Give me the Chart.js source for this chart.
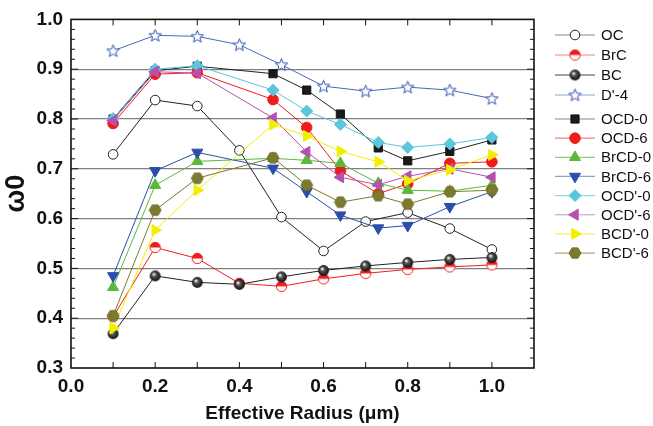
<!DOCTYPE html>
<html>
<head>
<meta charset="utf-8">
<script src="https://cdn.jsdelivr.net/npm/chart.js@4.4.1/dist/chart.umd.min.js"></script>
<style>
  html, body { margin: 0; padding: 0; background: #fff; }
  #wrap { width: 653px; height: 426px; }
</style>
</head>
<body>
<div id="wrap"><canvas id="omegaChart"></canvas></div>
<script>
// radius grids (µm)
const radiusAerosol = [0.1, 0.2, 0.3, 0.4, 0.5, 0.6, 0.7, 0.8, 0.9, 1.0];
const radiusMixed = [0.1, 0.2, 0.3, 0.48, 0.56, 0.64, 0.73, 0.8, 0.9, 1.0];

// single scattering albedo values
const ocVals    = [0.729, 0.838, 0.826, 0.737, 0.603, 0.535, 0.594, 0.612, 0.580, 0.538];
const brcVals   = [0.403, 0.542, 0.520, 0.470, 0.464, 0.479, 0.490, 0.498, 0.503, 0.507];
const bcVals    = [0.369, 0.485, 0.472, 0.468, 0.483, 0.496, 0.505, 0.512, 0.518, 0.522];
const d4Vals    = [0.937, 0.968, 0.966, 0.949, 0.909, 0.866, 0.856, 0.864, 0.858, 0.841];
const ocd0Vals  = [0.800, 0.897, 0.906, 0.891, 0.858, 0.810, 0.742, 0.716, 0.735, 0.758];
const ocd6Vals  = [0.791, 0.890, 0.893, 0.839, 0.783, 0.696, 0.650, 0.670, 0.711, 0.714];
const brcd0Vals = [0.462, 0.667, 0.715, 0.721, 0.717, 0.711, 0.671, 0.657, 0.655, 0.667];
const brcd6Vals = [0.485, 0.696, 0.733, 0.701, 0.654, 0.607, 0.581, 0.586, 0.624, 0.654];
const ocdp0Vals = [0.801, 0.900, 0.907, 0.858, 0.816, 0.789, 0.753, 0.743, 0.750, 0.763];
const ocdp6Vals = [0.797, 0.895, 0.892, 0.802, 0.734, 0.683, 0.668, 0.685, 0.700, 0.683];
const bcdp0Vals = [0.380, 0.577, 0.657, 0.789, 0.766, 0.735, 0.714, 0.676, 0.698, 0.728];
const bcdp6Vals = [0.405, 0.617, 0.681, 0.722, 0.667, 0.633, 0.646, 0.629, 0.654, 0.657];

const xTickVals = [0.0, 0.2, 0.4, 0.6, 0.8, 1.0];
const yTickVals = [0.3, 0.4, 0.5, 0.6, 0.7, 0.8, 0.9, 1.0];

const FONT = '"Liberation Sans", Arial, Helvetica, sans-serif';

// custom marker images
function marker(size, draw) {
    const c = document.createElement("canvas");
    c.width = size; c.height = size;
    draw(c.getContext("2d"), size / 2);
    return c;
}

const starImg = marker(15, function (g, m) {
    g.beginPath();
    for (let k = 0; k < 10; k++) {
        const r = k % 2 === 0 ? 6.5 : 2.8;
        const a = -Math.PI / 2 + k * Math.PI / 5;
        g.lineTo(m + r * Math.cos(a), m + 0.5 + r * Math.sin(a));
    }
    g.closePath();
    g.fillStyle = "#fff"; g.fill();
    g.strokeStyle = "#2e4fb0"; g.lineWidth = 1; g.stroke();
});

const halfImg = marker(13, function (g, m) {
    g.beginPath(); g.arc(m, m, 5.2, 0, Math.PI * 2);
    g.fillStyle = "#fff"; g.fill();
    g.beginPath(); g.arc(m, m, 5.2, Math.PI, Math.PI * 2); g.closePath();
    g.fillStyle = "#f01c1c"; g.fill();
    g.beginPath(); g.arc(m, m, 5.2, 0, Math.PI * 2);
    g.strokeStyle = "#f01c1c"; g.lineWidth = 1; g.stroke();
});

const ballImg = marker(13, function (g, m) {
    const grad = g.createRadialGradient(m - 1.6, m - 1.8, 0.4, m, m, 5.6);
    grad.addColorStop(0, "#f4f4f4");
    grad.addColorStop(0.35, "#555");
    grad.addColorStop(1, "#0a0a0a");
    g.beginPath(); g.arc(m, m, 5.4, 0, Math.PI * 2);
    g.fillStyle = grad; g.fill();
});

const hexImg = marker(14, function (g, m) {
    g.beginPath();
    for (let k = 0; k < 6; k++) {
        const a = k * Math.PI / 3;
        g.lineTo(m + 6 * Math.cos(a), m + 6 * Math.sin(a));
    }
    g.closePath();
    g.fillStyle = "#7b7a2e"; g.fill();
    g.strokeStyle = "#6b6a24"; g.lineWidth = 0.8; g.stroke();
});

function pts(xs, ys) {
    return xs.map(function (x, i) { return { x: x, y: ys[i] }; });
}

function series(label, xs, ys, line, style, fill, edge, radius, rotation, legendLine) {
    return {
        label: label,
        data: pts(xs, ys),
        borderColor: line,
        borderWidth: 1,
        pointStyle: style,
        pointBackgroundColor: fill,
        pointBorderColor: edge,
        pointBorderWidth: 1,
        pointRadius: radius,
        pointRotation: rotation || 0,
        legendLine: legendLine || line,
        tension: 0
    };
}

const datasets = [
    series("OC", radiusAerosol, ocVals, "#222", "circle", "#fff", "#222", 4.8, 0, "#888"),
    series("BrC", radiusAerosol, brcVals, "#f01c1c", halfImg, "#f01c1c", "#f01c1c", 5, 0, "#f58080"),
    series("BC", radiusAerosol, bcVals, "#222", ballImg, "#111", "#111", 5, 0, "#444"),
    series("D'-4", radiusAerosol, d4Vals, "#4a66bc", starImg, "#fff", "#2e4fb0", 6, 0, "#8c9fd6"),
    series("OCD-0", radiusMixed, ocd0Vals, "#222", "rect", "#1a1a1a", "#1a1a1a", 5.8, 0, "#888"),
    series("OCD-6", radiusMixed, ocd6Vals, "#f01c1c", "circle", "#f01c1c", "#f01c1c", 5.3, 0, "#f58080"),
    series("BrCD-0", radiusMixed, brcd0Vals, "#5cb83a", "triangle", "#5cb83a", "#5cb83a", 6.4, 0, "#8fd070"),
    series("BrCD-6", radiusMixed, brcd6Vals, "#2a4fa8", "triangle", "#2a4fa8", "#2a4fa8", 6.4, 180, "#8c9fd6"),
    series("OCD'-0", radiusMixed, ocdp0Vals, "#5cc6dc", "rectRot", "#5cc6dc", "#5cc6dc", 6, 0, "#8fd8e8"),
    series("OCD'-6", radiusMixed, ocdp6Vals, "#b452ae", "triangle", "#b452ae", "#b452ae", 6.4, 270, "#d090cc"),
    series("BCD'-0", radiusMixed, bcdp0Vals, "#f2ee00", "triangle", "#f2ee00", "#f2ee00", 6.4, 90, "#f2ee60"),
    series("BCD'-6", radiusMixed, bcdp6Vals, "#7b7a2e", hexImg, "#7b7a2e", "#7b7a2e", 6, 0, "#a8a878")
];
// later series are drawn on top
datasets.forEach(function (ds, i) { ds.order = datasets.length - i; });

// frame with inward tick marks on all four sides
const framePlugin = {
    id: "frame",
    beforeDatasetsDraw: function (chart) {
        const ctx = chart.ctx, a = chart.chartArea;
        const xs = chart.scales.x, ys = chart.scales.y;
        ctx.save();
        ctx.strokeStyle = "#111";
        ctx.lineWidth = 1;
        ctx.beginPath();
        for (let k = 1; k <= 10; k++) {
            const px = xs.getPixelForValue(k / 10);
            ctx.moveTo(px, a.bottom); ctx.lineTo(px, a.bottom - 6);
            ctx.moveTo(px, a.top); ctx.lineTo(px, a.top + 6);
        }
        for (let k = 16; k <= 49; k++) {
            const py = ys.getPixelForValue(k / 50);
            const len = k % 5 === 0 ? 7 : 4;
            ctx.moveTo(a.left, py); ctx.lineTo(a.left + len, py);
            ctx.moveTo(a.right, py); ctx.lineTo(a.right - len, py);
        }
        ctx.stroke();
        ctx.lineWidth = 1.6;
        ctx.strokeRect(a.left, a.top, a.right - a.left, a.bottom - a.top);
        ctx.restore();
    }
};

// legend on the right with a line through each marker
const sideLegend = {
    id: "sideLegend",
    afterDraw: function (chart) {
        const ctx = chart.ctx;
        chart.data.datasets.forEach(function (ds, i) {
            const y = i < 4 ? 35 + i * 20 : 119 + (i - 4) * 19.15;
            ctx.save();
            ctx.strokeStyle = ds.legendLine;
            ctx.lineWidth = 1.2;
            ctx.beginPath(); ctx.moveTo(555, y); ctx.lineTo(595, y); ctx.stroke();
            ctx.fillStyle = ds.pointBackgroundColor;
            ctx.strokeStyle = ds.pointBorderColor;
            ctx.lineWidth = 1;
            Chart.helpers.drawPoint(ctx, {
                pointStyle: ds.pointStyle, rotation: ds.pointRotation,
                radius: ds.pointRadius, borderWidth: 1
            }, 575, y);
            ctx.fillStyle = "#111";
            ctx.font = "15px " + FONT;
            ctx.textBaseline = "middle";
            ctx.textAlign = "left";
            ctx.fillText(ds.label, 601, y + 1);
            ctx.restore();
        });
    }
};

new Chart(document.getElementById("omegaChart").getContext("2d"), {
    type: "line",
    data: { datasets: datasets },
    options: {
        responsive: true,
        maintainAspectRatio: false,
        animation: false,
        layout: { padding: { top: 9, right: 119, left: 0, bottom: 0 } },
        plugins: { legend: { display: false }, tooltip: { enabled: false } },
        scales: {
            x: {
                type: "linear",
                min: 0, max: 1.1,
                afterBuildTicks: function (s) { s.ticks = xTickVals.map(function (v) { return { value: v }; }); },
                afterFit: function (s) { s.height = 58; },
                grid: { display: false, drawTicks: false },
                border: { display: false },
                ticks: {
                    color: "#111", padding: 7, maxRotation: 0, autoSkip: false,
                    font: { family: FONT, size: 19, weight: "bold" },
                    callback: function (v) { return Number(v).toFixed(1); }
                },
                title: {
                    display: true, text: "Effective Radius (\u03bcm)", color: "#111",
                    font: { family: FONT, size: 19, weight: "bold" },
                    padding: { top: 0, bottom: 1 }
                }
            },
            y: {
                min: 0.3, max: 1.0,
                afterBuildTicks: function (s) { s.ticks = yTickVals.map(function (v) { return { value: v }; }); },
                afterFit: function (s) { s.width = 71; },
                grid: {
                    drawTicks: false, lineWidth: 1.3,
                    color: function (c) {
                        const v = c.tick ? c.tick.value : 0;
                        return (v < 0.35 || v > 0.95) ? "rgba(0,0,0,0)" : "#808080";
                    }
                },
                border: { display: false },
                ticks: {
                    color: "#111", padding: 8, autoSkip: false,
                    font: { family: FONT, size: 19, weight: "bold" },
                    callback: function (v) { return Number(v).toFixed(1); }
                },
                title: {
                    display: true, text: "\u03c90", color: "#111",
                    font: { family: FONT, size: 27, weight: "bold" },
                    padding: 0
                }
            }
        }
    },
    plugins: [framePlugin, sideLegend]
});
</script>
</body>
</html>
